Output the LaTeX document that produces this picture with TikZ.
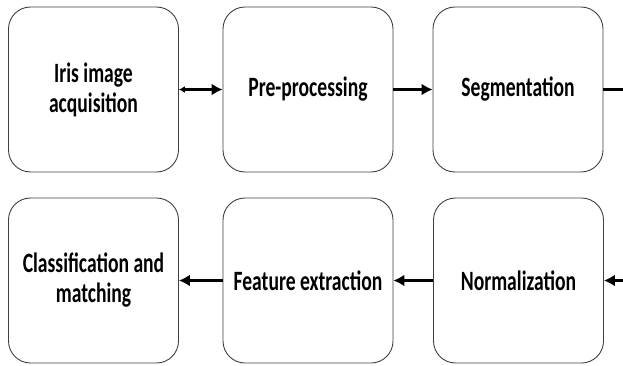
\documentclass[tikz,border=0pt]{standalone}
\usepackage{fontspec}
\setmainfont{Carlito}[FakeStretch=0.7]
\usetikzlibrary{arrows.meta}
\tikzstyle{stage}=[rectangle,rounded corners=22pt,draw=black!75,line width=0.9pt,minimum width=170pt,minimum height=165pt,inner sep=0pt,align=center,font=\fontsize{28}{30}\selectfont\bfseries]
\tikzstyle{flow} = [draw,line width=3pt,-{Latex[length=11pt,width=12pt]}]
\tikzstyle{plainedge} = [draw,line width=3pt]
\begin{document}
\begin{tikzpicture}[x=1pt,y=1pt]
    \useasboundingbox (0,0) rectangle (623,365);
    % Top row of stages
    \foreach \pos/\name/\txt in {{(93.5,275.5)/acq/{Iris image\\acquisition}},{(308,275.5)/pre/{Pre-processing}},{(518,275.5)/seg/{Segmentation}}}
        \node[stage] (\name) at \pos {\txt};

    % Bottom row of stages
    \foreach \pos/\name/\txt in {{(93.5,84.5)/cls/{Classification and\\matching}},{(308,84.5)/feat/{Feature extraction}},{(518.5,84.5)/norm/{Normalization}}}
        \node[stage] (\name) at \pos {\txt};

    % Free ends at the right border
    \coordinate (outR) at (623,275.5);
    \coordinate (inR) at (623,84.5);

    % Connect the stages
    \path[flow,{Latex[length=6pt,width=7pt]}-{Latex[length=11pt,width=12pt]}] (acq) -- (pre);
    \path[flow] (pre) -- (seg);
    \path[plainedge] (seg) -- (outR);
    \foreach \source/ \dest in {inR/norm, norm/feat, feat/cls}
        \path[flow] (\source) -- (\dest);
\end{tikzpicture}
\end{document}
